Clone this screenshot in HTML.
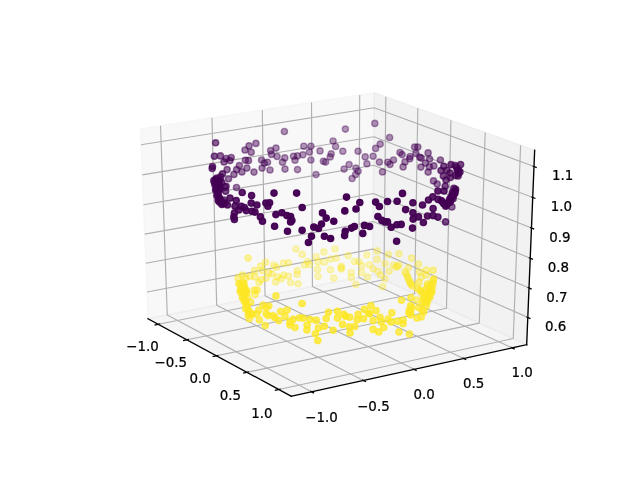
<!DOCTYPE html>
<html><head><meta charset="utf-8"><title>3D scatter</title>
<style>html,body{margin:0;padding:0;background:#fff}svg{display:block}
text{font-family:"DejaVu Sans","Liberation Sans",sans-serif;font-size:13.89px;fill:#000;stroke:#000;stroke-width:0.25px;text-anchor:middle}
.pts circle{stroke-width:1.39}</style></head>
<body><svg width="640" height="480" viewBox="0 0 640 480">
<rect width="640" height="480" fill="#fff"/>
<g class="frame">
<polygon points="148.01,318.73 140.47,128.87 374.25,92.63 372.79,274.70" fill="#f2f2f2" fill-opacity="0.5" stroke="#f2f2f2" stroke-opacity="0.5" stroke-width="1.39" stroke-linejoin="round"/>
<polygon points="372.79,274.70 374.25,92.63 534.66,150.30 526.68,344.68" fill="#e6e6e6" fill-opacity="0.5" stroke="#e6e6e6" stroke-opacity="0.5" stroke-width="1.39" stroke-linejoin="round"/>
<polygon points="148.01,318.73 372.79,274.70 526.68,344.68 291.31,396.26" fill="#ececec" fill-opacity="0.5" stroke="#ececec" stroke-opacity="0.5" stroke-width="1.39" stroke-linejoin="round"/>
<line x1="148.01" y1="318.73" x2="291.31" y2="396.26" stroke="#000" stroke-width="1.35" stroke-linecap="square"/>
<polyline points="158.33,324.31 383.91,279.76 385.81,96.79" fill="none" stroke="#b0b0b0" stroke-width="1.15" stroke-linejoin="round"/>
<polyline points="186.92,339.78 414.69,293.76 417.83,108.30" fill="none" stroke="#b0b0b0" stroke-width="1.15" stroke-linejoin="round"/>
<polyline points="216.48,355.78 446.47,308.21 450.94,120.20" fill="none" stroke="#b0b0b0" stroke-width="1.15" stroke-linejoin="round"/>
<polyline points="247.07,372.33 479.30,323.14 485.18,132.51" fill="none" stroke="#b0b0b0" stroke-width="1.15" stroke-linejoin="round"/>
<polyline points="278.75,389.46 513.23,338.56 520.61,145.25" fill="none" stroke="#b0b0b0" stroke-width="1.15" stroke-linejoin="round"/>
<line x1="160.23" y1="323.94" x2="154.53" y2="325.06" stroke="#000" stroke-width="1.3"/>
<line x1="188.83" y1="339.39" x2="183.08" y2="340.56" stroke="#000" stroke-width="1.3"/>
<line x1="218.42" y1="355.38" x2="212.61" y2="356.58" stroke="#000" stroke-width="1.3"/>
<line x1="249.03" y1="371.91" x2="243.16" y2="373.16" stroke="#000" stroke-width="1.3"/>
<line x1="280.72" y1="389.03" x2="274.79" y2="390.32" stroke="#000" stroke-width="1.3"/>
<line x1="526.68" y1="344.68" x2="291.31" y2="396.26" stroke="#000" stroke-width="1.35" stroke-linecap="square"/>
<polyline points="160.52,125.77 167.26,314.96 311.53,391.83" fill="none" stroke="#b0b0b0" stroke-width="1.15" stroke-linejoin="round"/>
<polyline points="211.97,117.79 216.67,305.28 363.40,380.46" fill="none" stroke="#b0b0b0" stroke-width="1.15" stroke-linejoin="round"/>
<polyline points="262.29,109.99 265.04,295.81 414.08,369.35" fill="none" stroke="#b0b0b0" stroke-width="1.15" stroke-linejoin="round"/>
<polyline points="311.53,102.35 312.40,286.53 463.63,358.49" fill="none" stroke="#b0b0b0" stroke-width="1.15" stroke-linejoin="round"/>
<polyline points="359.72,94.88 358.79,277.45 512.08,347.88" fill="none" stroke="#b0b0b0" stroke-width="1.15" stroke-linejoin="round"/>
<line x1="310.28" y1="391.16" x2="314.04" y2="393.16" stroke="#000" stroke-width="1.3"/>
<line x1="362.13" y1="379.81" x2="365.94" y2="381.77" stroke="#000" stroke-width="1.3"/>
<line x1="412.79" y1="368.72" x2="416.67" y2="370.63" stroke="#000" stroke-width="1.3"/>
<line x1="462.32" y1="357.87" x2="466.25" y2="359.74" stroke="#000" stroke-width="1.3"/>
<line x1="510.75" y1="347.27" x2="514.73" y2="349.10" stroke="#000" stroke-width="1.3"/>
<line x1="526.68" y1="344.68" x2="534.66" y2="150.30" stroke="#000" stroke-width="1.35" stroke-linecap="square"/>
<polyline points="527.80,317.38 372.99,249.07 146.95,292.04" fill="none" stroke="#b0b0b0" stroke-width="1.15" stroke-linejoin="round"/>
<polyline points="529.01,287.96 373.22,221.47 145.81,263.29" fill="none" stroke="#b0b0b0" stroke-width="1.15" stroke-linejoin="round"/>
<polyline points="530.23,258.18 373.44,193.54 144.66,234.19" fill="none" stroke="#b0b0b0" stroke-width="1.15" stroke-linejoin="round"/>
<polyline points="531.47,228.01 373.67,165.29 143.49,204.73" fill="none" stroke="#b0b0b0" stroke-width="1.15" stroke-linejoin="round"/>
<polyline points="532.72,197.46 373.90,136.70 142.30,174.90" fill="none" stroke="#b0b0b0" stroke-width="1.15" stroke-linejoin="round"/>
<polyline points="534.00,166.52 374.13,107.78 141.10,144.70" fill="none" stroke="#b0b0b0" stroke-width="1.15" stroke-linejoin="round"/>
<line x1="526.46" y1="316.79" x2="530.48" y2="318.56" stroke="#000" stroke-width="1.3"/>
<line x1="527.66" y1="287.39" x2="531.71" y2="289.12" stroke="#000" stroke-width="1.3"/>
<line x1="528.87" y1="257.62" x2="532.95" y2="259.30" stroke="#000" stroke-width="1.3"/>
<line x1="530.10" y1="227.47" x2="534.21" y2="229.10" stroke="#000" stroke-width="1.3"/>
<line x1="531.35" y1="196.94" x2="535.48" y2="198.51" stroke="#000" stroke-width="1.3"/>
<line x1="532.61" y1="166.01" x2="536.77" y2="167.54" stroke="#000" stroke-width="1.3"/>
<text transform="translate(142.51 351.44) scale(0.965 1)">−1.0</text>
<text transform="translate(170.85 367.19) scale(0.965 1)">−0.5</text>
<text transform="translate(200.15 383.48) scale(0.965 1)">0.0</text>
<text transform="translate(230.48 400.34) scale(0.965 1)">0.5</text>
<text transform="translate(261.88 417.80) scale(0.965 1)">1.0</text>
<text transform="translate(321.52 422.34) scale(0.965 1)">−1.0</text>
<text transform="translate(373.41 410.71) scale(0.965 1)">−0.5</text>
<text transform="translate(424.12 399.35) scale(0.965 1)">0.0</text>
<text transform="translate(473.68 388.24) scale(0.965 1)">0.5</text>
<text transform="translate(522.14 377.38) scale(0.965 1)">1.0</text>
<text transform="translate(555.61 331.43) scale(0.965 1)">0.6</text>
<text transform="translate(556.99 301.97) scale(0.965 1)">0.7</text>
<text transform="translate(558.40 272.13) scale(0.965 1)">0.8</text>
<text transform="translate(559.82 241.91) scale(0.965 1)">0.9</text>
<text transform="translate(561.26 211.31) scale(0.965 1)">1.0</text>
<text transform="translate(562.71 180.31) scale(0.965 1)">1.1</text>
</g>
<g class="pts">
<circle cx="335.0" cy="249.0" r="3.1" fill="#fde725" stroke="#fde725" fill-opacity="0.30" stroke-opacity="0.30"/>
<circle cx="330.6" cy="259.0" r="3.1" fill="#fde725" stroke="#fde725" fill-opacity="0.30" stroke-opacity="0.30"/>
<circle cx="336.2" cy="258.1" r="3.1" fill="#fde725" stroke="#fde725" fill-opacity="0.30" stroke-opacity="0.30"/>
<circle cx="341.2" cy="266.2" r="3.1" fill="#fde725" stroke="#fde725" fill-opacity="0.30" stroke-opacity="0.30"/>
<circle cx="341.2" cy="269.0" r="3.1" fill="#fde725" stroke="#fde725" fill-opacity="0.30" stroke-opacity="0.30"/>
<circle cx="341.5" cy="267.8" r="3.1" fill="#fde725" stroke="#fde725" fill-opacity="0.30" stroke-opacity="0.30"/>
<circle cx="333.8" cy="278.1" r="3.1" fill="#fde725" stroke="#fde725" fill-opacity="0.30" stroke-opacity="0.30"/>
<circle cx="348.1" cy="255.6" r="3.1" fill="#fde725" stroke="#fde725" fill-opacity="0.30" stroke-opacity="0.30"/>
<circle cx="330.4" cy="269.8" r="3.1" fill="#fde725" stroke="#fde725" fill-opacity="0.30" stroke-opacity="0.30"/>
<circle cx="323.8" cy="251.9" r="3.1" fill="#fde725" stroke="#fde725" fill-opacity="0.30" stroke-opacity="0.30"/>
<circle cx="324.4" cy="262.2" r="3.1" fill="#fde725" stroke="#fde725" fill-opacity="0.30" stroke-opacity="0.30"/>
<circle cx="351.2" cy="272.5" r="3.1" fill="#fde725" stroke="#fde725" fill-opacity="0.30" stroke-opacity="0.30"/>
<circle cx="351.2" cy="277.5" r="3.1" fill="#fde725" stroke="#fde725" fill-opacity="0.30" stroke-opacity="0.30"/>
<circle cx="318.1" cy="261.9" r="3.1" fill="#fde725" stroke="#fde725" fill-opacity="0.30" stroke-opacity="0.30"/>
<circle cx="354.4" cy="261.5" r="3.1" fill="#fde725" stroke="#fde725" fill-opacity="0.30" stroke-opacity="0.30"/>
<circle cx="318.1" cy="276.5" r="3.1" fill="#fde725" stroke="#fde725" fill-opacity="0.30" stroke-opacity="0.30"/>
<circle cx="355.9" cy="284.4" r="3.1" fill="#fde725" stroke="#fde725" fill-opacity="0.30" stroke-opacity="0.30"/>
<circle cx="316.2" cy="256.9" r="3.1" fill="#fde725" stroke="#fde725" fill-opacity="0.30" stroke-opacity="0.30"/>
<circle cx="317.5" cy="269.4" r="3.1" fill="#fde725" stroke="#fde725" fill-opacity="0.30" stroke-opacity="0.30"/>
<circle cx="358.8" cy="261.5" r="3.1" fill="#fde725" stroke="#fde725" fill-opacity="0.31" stroke-opacity="0.31"/>
<circle cx="361.6" cy="272.5" r="3.1" fill="#fde725" stroke="#fde725" fill-opacity="0.31" stroke-opacity="0.31"/>
<circle cx="361.9" cy="265.6" r="3.1" fill="#fde725" stroke="#fde725" fill-opacity="0.31" stroke-opacity="0.31"/>
<circle cx="309.4" cy="264.4" r="3.1" fill="#fde725" stroke="#fde725" fill-opacity="0.31" stroke-opacity="0.31"/>
<circle cx="366.9" cy="255.0" r="3.1" fill="#fde725" stroke="#fde725" fill-opacity="0.31" stroke-opacity="0.31"/>
<circle cx="307.5" cy="261.5" r="3.1" fill="#fde725" stroke="#fde725" fill-opacity="0.31" stroke-opacity="0.31"/>
<circle cx="367.5" cy="276.9" r="3.1" fill="#fde725" stroke="#fde725" fill-opacity="0.31" stroke-opacity="0.31"/>
<circle cx="304.4" cy="265.0" r="3.1" fill="#fde725" stroke="#fde725" fill-opacity="0.31" stroke-opacity="0.31"/>
<circle cx="369.4" cy="264.8" r="3.1" fill="#fde725" stroke="#fde725" fill-opacity="0.31" stroke-opacity="0.31"/>
<circle cx="302.2" cy="254.4" r="3.1" fill="#fde725" stroke="#fde725" fill-opacity="0.32" stroke-opacity="0.32"/>
<circle cx="373.1" cy="268.8" r="3.1" fill="#fde725" stroke="#fde725" fill-opacity="0.32" stroke-opacity="0.32"/>
<circle cx="298.1" cy="283.8" r="3.1" fill="#fde725" stroke="#fde725" fill-opacity="0.32" stroke-opacity="0.32"/>
<circle cx="297.2" cy="270.6" r="3.1" fill="#fde725" stroke="#fde725" fill-opacity="0.32" stroke-opacity="0.32"/>
<circle cx="297.2" cy="274.4" r="3.1" fill="#fde725" stroke="#fde725" fill-opacity="0.32" stroke-opacity="0.32"/>
<circle cx="377.1" cy="250.9" r="3.1" fill="#fde725" stroke="#fde725" fill-opacity="0.32" stroke-opacity="0.32"/>
<circle cx="377.1" cy="259.4" r="3.1" fill="#fde725" stroke="#fde725" fill-opacity="0.32" stroke-opacity="0.32"/>
<circle cx="295.9" cy="249.0" r="3.1" fill="#fde725" stroke="#fde725" fill-opacity="0.32" stroke-opacity="0.32"/>
<circle cx="378.1" cy="271.2" r="3.1" fill="#fde725" stroke="#fde725" fill-opacity="0.32" stroke-opacity="0.32"/>
<circle cx="380.6" cy="275.0" r="3.1" fill="#fde725" stroke="#fde725" fill-opacity="0.32" stroke-opacity="0.32"/>
<circle cx="382.5" cy="286.6" r="3.1" fill="#fde725" stroke="#fde725" fill-opacity="0.33" stroke-opacity="0.33"/>
<circle cx="290.6" cy="282.5" r="3.1" fill="#fde725" stroke="#fde725" fill-opacity="0.33" stroke-opacity="0.33"/>
<circle cx="385.0" cy="263.5" r="3.1" fill="#fde725" stroke="#fde725" fill-opacity="0.33" stroke-opacity="0.33"/>
<circle cx="385.0" cy="278.8" r="3.1" fill="#fde725" stroke="#fde725" fill-opacity="0.33" stroke-opacity="0.33"/>
<circle cx="288.4" cy="262.8" r="3.1" fill="#fde725" stroke="#fde725" fill-opacity="0.33" stroke-opacity="0.33"/>
<circle cx="288.4" cy="276.2" r="3.1" fill="#fde725" stroke="#fde725" fill-opacity="0.33" stroke-opacity="0.33"/>
<circle cx="388.4" cy="254.4" r="3.1" fill="#fde725" stroke="#fde725" fill-opacity="0.33" stroke-opacity="0.33"/>
<circle cx="389.1" cy="271.2" r="3.1" fill="#fde725" stroke="#fde725" fill-opacity="0.34" stroke-opacity="0.34"/>
<circle cx="283.4" cy="263.1" r="3.1" fill="#fde725" stroke="#fde725" fill-opacity="0.34" stroke-opacity="0.34"/>
<circle cx="283.8" cy="275.0" r="3.1" fill="#fde725" stroke="#fde725" fill-opacity="0.34" stroke-opacity="0.34"/>
<circle cx="281.2" cy="278.8" r="3.1" fill="#fde725" stroke="#fde725" fill-opacity="0.34" stroke-opacity="0.34"/>
<circle cx="393.5" cy="265.0" r="3.1" fill="#fde725" stroke="#fde725" fill-opacity="0.34" stroke-opacity="0.34"/>
<circle cx="277.5" cy="276.9" r="3.1" fill="#fde725" stroke="#fde725" fill-opacity="0.35" stroke-opacity="0.35"/>
<circle cx="396.2" cy="267.2" r="3.1" fill="#fde725" stroke="#fde725" fill-opacity="0.35" stroke-opacity="0.35"/>
<circle cx="276.5" cy="267.2" r="3.1" fill="#fde725" stroke="#fde725" fill-opacity="0.35" stroke-opacity="0.35"/>
<circle cx="397.5" cy="266.2" r="3.1" fill="#fde725" stroke="#fde725" fill-opacity="0.35" stroke-opacity="0.35"/>
<circle cx="275.6" cy="281.9" r="3.1" fill="#fde725" stroke="#fde725" fill-opacity="0.35" stroke-opacity="0.35"/>
<circle cx="398.8" cy="265.0" r="3.1" fill="#fde725" stroke="#fde725" fill-opacity="0.35" stroke-opacity="0.35"/>
<circle cx="399.0" cy="253.8" r="3.1" fill="#fde725" stroke="#fde725" fill-opacity="0.35" stroke-opacity="0.35"/>
<circle cx="273.8" cy="265.0" r="3.1" fill="#fde725" stroke="#fde725" fill-opacity="0.35" stroke-opacity="0.35"/>
<circle cx="271.9" cy="273.8" r="3.1" fill="#fde725" stroke="#fde725" fill-opacity="0.36" stroke-opacity="0.36"/>
<circle cx="405.0" cy="271.9" r="3.1" fill="#fde725" stroke="#fde725" fill-opacity="0.36" stroke-opacity="0.36"/>
<circle cx="268.8" cy="272.5" r="3.1" fill="#fde725" stroke="#fde725" fill-opacity="0.36" stroke-opacity="0.36"/>
<circle cx="406.2" cy="273.8" r="3.1" fill="#fde725" stroke="#fde725" fill-opacity="0.37" stroke-opacity="0.37"/>
<circle cx="266.2" cy="278.1" r="3.1" fill="#fde725" stroke="#fde725" fill-opacity="0.37" stroke-opacity="0.37"/>
<circle cx="407.5" cy="276.2" r="3.1" fill="#fde725" stroke="#fde725" fill-opacity="0.37" stroke-opacity="0.37"/>
<circle cx="408.1" cy="278.1" r="3.1" fill="#fde725" stroke="#fde725" fill-opacity="0.37" stroke-opacity="0.37"/>
<circle cx="265.6" cy="262.2" r="3.1" fill="#fde725" stroke="#fde725" fill-opacity="0.37" stroke-opacity="0.37"/>
<circle cx="408.4" cy="267.8" r="3.1" fill="#fde725" stroke="#fde725" fill-opacity="0.37" stroke-opacity="0.37"/>
<circle cx="408.8" cy="280.0" r="3.1" fill="#fde725" stroke="#fde725" fill-opacity="0.37" stroke-opacity="0.37"/>
<circle cx="262.5" cy="270.4" r="3.1" fill="#fde725" stroke="#fde725" fill-opacity="0.38" stroke-opacity="0.38"/>
<circle cx="411.5" cy="258.1" r="3.1" fill="#fde725" stroke="#fde725" fill-opacity="0.38" stroke-opacity="0.38"/>
<circle cx="261.2" cy="279.8" r="3.1" fill="#fde725" stroke="#fde725" fill-opacity="0.38" stroke-opacity="0.38"/>
<circle cx="412.5" cy="286.2" r="3.1" fill="#fde725" stroke="#fde725" fill-opacity="0.38" stroke-opacity="0.38"/>
<circle cx="260.6" cy="266.0" r="3.1" fill="#fde725" stroke="#fde725" fill-opacity="0.39" stroke-opacity="0.39"/>
<circle cx="259.0" cy="282.5" r="3.1" fill="#fde725" stroke="#fde725" fill-opacity="0.39" stroke-opacity="0.39"/>
<circle cx="333.1" cy="141.0" r="3.1" fill="#440154" stroke="#440154" fill-opacity="0.40" stroke-opacity="0.40"/>
<circle cx="335.6" cy="146.5" r="3.1" fill="#440154" stroke="#440154" fill-opacity="0.40" stroke-opacity="0.40"/>
<circle cx="342.8" cy="151.2" r="3.1" fill="#440154" stroke="#440154" fill-opacity="0.40" stroke-opacity="0.40"/>
<circle cx="331.2" cy="153.8" r="3.1" fill="#440154" stroke="#440154" fill-opacity="0.40" stroke-opacity="0.40"/>
<circle cx="344.1" cy="169.1" r="3.1" fill="#440154" stroke="#440154" fill-opacity="0.40" stroke-opacity="0.40"/>
<circle cx="345.4" cy="129.1" r="3.1" fill="#440154" stroke="#440154" fill-opacity="0.40" stroke-opacity="0.40"/>
<circle cx="330.2" cy="156.9" r="3.1" fill="#440154" stroke="#440154" fill-opacity="0.40" stroke-opacity="0.40"/>
<circle cx="325.6" cy="162.1" r="3.1" fill="#440154" stroke="#440154" fill-opacity="0.40" stroke-opacity="0.40"/>
<circle cx="349.1" cy="164.6" r="3.1" fill="#440154" stroke="#440154" fill-opacity="0.40" stroke-opacity="0.40"/>
<circle cx="418.4" cy="264.0" r="3.1" fill="#fde725" stroke="#fde725" fill-opacity="0.40" stroke-opacity="0.40"/>
<circle cx="323.4" cy="161.2" r="3.1" fill="#440154" stroke="#440154" fill-opacity="0.40" stroke-opacity="0.40"/>
<circle cx="352.1" cy="178.5" r="3.1" fill="#440154" stroke="#440154" fill-opacity="0.40" stroke-opacity="0.40"/>
<circle cx="320.0" cy="150.9" r="3.1" fill="#440154" stroke="#440154" fill-opacity="0.40" stroke-opacity="0.40"/>
<circle cx="355.9" cy="168.1" r="3.1" fill="#440154" stroke="#440154" fill-opacity="0.40" stroke-opacity="0.40"/>
<circle cx="355.6" cy="174.6" r="3.1" fill="#440154" stroke="#440154" fill-opacity="0.40" stroke-opacity="0.40"/>
<circle cx="255.0" cy="276.9" r="3.1" fill="#fde725" stroke="#fde725" fill-opacity="0.40" stroke-opacity="0.40"/>
<circle cx="358.1" cy="151.2" r="3.1" fill="#440154" stroke="#440154" fill-opacity="0.40" stroke-opacity="0.40"/>
<circle cx="358.1" cy="171.2" r="3.1" fill="#440154" stroke="#440154" fill-opacity="0.40" stroke-opacity="0.40"/>
<circle cx="316.0" cy="174.6" r="3.1" fill="#440154" stroke="#440154" fill-opacity="0.40" stroke-opacity="0.40"/>
<circle cx="254.6" cy="270.6" r="3.1" fill="#fde725" stroke="#fde725" fill-opacity="0.40" stroke-opacity="0.40"/>
<circle cx="419.4" cy="271.9" r="3.1" fill="#fde725" stroke="#fde725" fill-opacity="0.40" stroke-opacity="0.40"/>
<circle cx="310.9" cy="146.2" r="3.1" fill="#440154" stroke="#440154" fill-opacity="0.41" stroke-opacity="0.41"/>
<circle cx="310.9" cy="160.0" r="3.1" fill="#440154" stroke="#440154" fill-opacity="0.41" stroke-opacity="0.41"/>
<circle cx="365.2" cy="156.9" r="3.1" fill="#440154" stroke="#440154" fill-opacity="0.41" stroke-opacity="0.41"/>
<circle cx="309.4" cy="152.1" r="3.1" fill="#440154" stroke="#440154" fill-opacity="0.41" stroke-opacity="0.41"/>
<circle cx="366.9" cy="163.8" r="3.1" fill="#440154" stroke="#440154" fill-opacity="0.41" stroke-opacity="0.41"/>
<circle cx="303.8" cy="146.2" r="3.1" fill="#440154" stroke="#440154" fill-opacity="0.41" stroke-opacity="0.41"/>
<circle cx="421.2" cy="276.9" r="3.1" fill="#fde725" stroke="#fde725" fill-opacity="0.41" stroke-opacity="0.41"/>
<circle cx="302.9" cy="154.8" r="3.1" fill="#440154" stroke="#440154" fill-opacity="0.41" stroke-opacity="0.41"/>
<circle cx="373.1" cy="156.2" r="3.1" fill="#440154" stroke="#440154" fill-opacity="0.41" stroke-opacity="0.41"/>
<circle cx="374.8" cy="123.4" r="3.1" fill="#440154" stroke="#440154" fill-opacity="0.41" stroke-opacity="0.41"/>
<circle cx="375.6" cy="148.4" r="3.1" fill="#440154" stroke="#440154" fill-opacity="0.41" stroke-opacity="0.41"/>
<circle cx="297.5" cy="155.9" r="3.1" fill="#440154" stroke="#440154" fill-opacity="0.42" stroke-opacity="0.42"/>
<circle cx="297.5" cy="169.6" r="3.1" fill="#440154" stroke="#440154" fill-opacity="0.42" stroke-opacity="0.42"/>
<circle cx="379.4" cy="162.1" r="3.1" fill="#440154" stroke="#440154" fill-opacity="0.42" stroke-opacity="0.42"/>
<circle cx="295.0" cy="160.2" r="3.1" fill="#440154" stroke="#440154" fill-opacity="0.42" stroke-opacity="0.42"/>
<circle cx="380.2" cy="144.1" r="3.1" fill="#440154" stroke="#440154" fill-opacity="0.42" stroke-opacity="0.42"/>
<circle cx="293.5" cy="156.2" r="3.1" fill="#440154" stroke="#440154" fill-opacity="0.42" stroke-opacity="0.42"/>
<circle cx="382.5" cy="171.9" r="3.1" fill="#440154" stroke="#440154" fill-opacity="0.42" stroke-opacity="0.42"/>
<circle cx="250.0" cy="276.2" r="3.1" fill="#fde725" stroke="#fde725" fill-opacity="0.42" stroke-opacity="0.42"/>
<circle cx="387.8" cy="162.2" r="3.1" fill="#440154" stroke="#440154" fill-opacity="0.42" stroke-opacity="0.42"/>
<circle cx="389.6" cy="137.5" r="3.1" fill="#440154" stroke="#440154" fill-opacity="0.43" stroke-opacity="0.43"/>
<circle cx="284.4" cy="131.5" r="3.1" fill="#440154" stroke="#440154" fill-opacity="0.43" stroke-opacity="0.43"/>
<circle cx="284.8" cy="157.9" r="3.1" fill="#440154" stroke="#440154" fill-opacity="0.43" stroke-opacity="0.43"/>
<circle cx="285.0" cy="169.1" r="3.1" fill="#440154" stroke="#440154" fill-opacity="0.43" stroke-opacity="0.43"/>
<circle cx="390.0" cy="164.4" r="3.1" fill="#440154" stroke="#440154" fill-opacity="0.43" stroke-opacity="0.43"/>
<circle cx="248.1" cy="258.1" r="3.1" fill="#fde725" stroke="#fde725" fill-opacity="0.43" stroke-opacity="0.43"/>
<circle cx="282.5" cy="162.2" r="3.1" fill="#440154" stroke="#440154" fill-opacity="0.43" stroke-opacity="0.43"/>
<circle cx="393.5" cy="160.0" r="3.1" fill="#440154" stroke="#440154" fill-opacity="0.43" stroke-opacity="0.43"/>
<circle cx="426.2" cy="270.0" r="3.1" fill="#fde725" stroke="#fde725" fill-opacity="0.43" stroke-opacity="0.43"/>
<circle cx="426.2" cy="275.0" r="3.1" fill="#fde725" stroke="#fde725" fill-opacity="0.43" stroke-opacity="0.43"/>
<circle cx="277.1" cy="156.5" r="3.1" fill="#440154" stroke="#440154" fill-opacity="0.44" stroke-opacity="0.44"/>
<circle cx="276.0" cy="148.1" r="3.1" fill="#440154" stroke="#440154" fill-opacity="0.44" stroke-opacity="0.44"/>
<circle cx="400.0" cy="152.5" r="3.1" fill="#440154" stroke="#440154" fill-opacity="0.44" stroke-opacity="0.44"/>
<circle cx="245.6" cy="278.1" r="3.1" fill="#fde725" stroke="#fde725" fill-opacity="0.44" stroke-opacity="0.44"/>
<circle cx="402.1" cy="154.6" r="3.1" fill="#440154" stroke="#440154" fill-opacity="0.44" stroke-opacity="0.44"/>
<circle cx="271.5" cy="154.4" r="3.1" fill="#440154" stroke="#440154" fill-opacity="0.45" stroke-opacity="0.45"/>
<circle cx="403.1" cy="166.9" r="3.1" fill="#440154" stroke="#440154" fill-opacity="0.45" stroke-opacity="0.45"/>
<circle cx="270.6" cy="150.6" r="3.1" fill="#440154" stroke="#440154" fill-opacity="0.45" stroke-opacity="0.45"/>
<circle cx="270.0" cy="170.0" r="3.1" fill="#440154" stroke="#440154" fill-opacity="0.45" stroke-opacity="0.45"/>
<circle cx="405.0" cy="161.9" r="3.1" fill="#440154" stroke="#440154" fill-opacity="0.45" stroke-opacity="0.45"/>
<circle cx="267.5" cy="162.2" r="3.1" fill="#440154" stroke="#440154" fill-opacity="0.45" stroke-opacity="0.45"/>
<circle cx="409.8" cy="158.8" r="3.1" fill="#440154" stroke="#440154" fill-opacity="0.46" stroke-opacity="0.46"/>
<circle cx="410.0" cy="156.5" r="3.1" fill="#440154" stroke="#440154" fill-opacity="0.46" stroke-opacity="0.46"/>
<circle cx="264.4" cy="163.1" r="3.1" fill="#440154" stroke="#440154" fill-opacity="0.46" stroke-opacity="0.46"/>
<circle cx="262.1" cy="168.1" r="3.1" fill="#440154" stroke="#440154" fill-opacity="0.46" stroke-opacity="0.46"/>
<circle cx="261.6" cy="160.0" r="3.1" fill="#440154" stroke="#440154" fill-opacity="0.46" stroke-opacity="0.46"/>
<circle cx="242.5" cy="275.0" r="3.1" fill="#fde725" stroke="#fde725" fill-opacity="0.46" stroke-opacity="0.46"/>
<circle cx="414.6" cy="147.1" r="3.1" fill="#440154" stroke="#440154" fill-opacity="0.46" stroke-opacity="0.46"/>
<circle cx="415.9" cy="153.4" r="3.1" fill="#440154" stroke="#440154" fill-opacity="0.47" stroke-opacity="0.47"/>
<circle cx="417.8" cy="147.1" r="3.1" fill="#440154" stroke="#440154" fill-opacity="0.47" stroke-opacity="0.47"/>
<circle cx="255.9" cy="143.4" r="3.1" fill="#440154" stroke="#440154" fill-opacity="0.47" stroke-opacity="0.47"/>
<circle cx="419.8" cy="157.2" r="3.1" fill="#440154" stroke="#440154" fill-opacity="0.47" stroke-opacity="0.47"/>
<circle cx="433.1" cy="270.2" r="3.1" fill="#fde725" stroke="#fde725" fill-opacity="0.47" stroke-opacity="0.47"/>
<circle cx="420.9" cy="167.1" r="3.1" fill="#440154" stroke="#440154" fill-opacity="0.48" stroke-opacity="0.48"/>
<circle cx="254.0" cy="172.1" r="3.1" fill="#440154" stroke="#440154" fill-opacity="0.48" stroke-opacity="0.48"/>
<circle cx="421.2" cy="158.1" r="3.1" fill="#440154" stroke="#440154" fill-opacity="0.48" stroke-opacity="0.48"/>
<circle cx="251.2" cy="152.2" r="3.1" fill="#440154" stroke="#440154" fill-opacity="0.48" stroke-opacity="0.48"/>
<circle cx="425.4" cy="163.1" r="3.1" fill="#440154" stroke="#440154" fill-opacity="0.49" stroke-opacity="0.49"/>
<circle cx="249.0" cy="145.9" r="3.1" fill="#440154" stroke="#440154" fill-opacity="0.49" stroke-opacity="0.49"/>
<circle cx="248.5" cy="160.6" r="3.1" fill="#440154" stroke="#440154" fill-opacity="0.49" stroke-opacity="0.49"/>
<circle cx="246.9" cy="168.1" r="3.1" fill="#440154" stroke="#440154" fill-opacity="0.49" stroke-opacity="0.49"/>
<circle cx="428.1" cy="152.9" r="3.1" fill="#440154" stroke="#440154" fill-opacity="0.49" stroke-opacity="0.49"/>
<circle cx="428.1" cy="172.1" r="3.1" fill="#440154" stroke="#440154" fill-opacity="0.49" stroke-opacity="0.49"/>
<circle cx="245.4" cy="160.2" r="3.1" fill="#440154" stroke="#440154" fill-opacity="0.50" stroke-opacity="0.50"/>
<circle cx="429.6" cy="159.1" r="3.1" fill="#440154" stroke="#440154" fill-opacity="0.50" stroke-opacity="0.50"/>
<circle cx="429.4" cy="166.9" r="3.1" fill="#440154" stroke="#440154" fill-opacity="0.50" stroke-opacity="0.50"/>
<circle cx="245.0" cy="150.0" r="3.1" fill="#440154" stroke="#440154" fill-opacity="0.50" stroke-opacity="0.50"/>
<circle cx="238.1" cy="278.1" r="3.1" fill="#fde725" stroke="#fde725" fill-opacity="0.50" stroke-opacity="0.50"/>
<circle cx="241.9" cy="171.9" r="3.1" fill="#440154" stroke="#440154" fill-opacity="0.51" stroke-opacity="0.51"/>
<circle cx="433.5" cy="180.9" r="3.1" fill="#440154" stroke="#440154" fill-opacity="0.51" stroke-opacity="0.51"/>
<circle cx="433.8" cy="165.9" r="3.1" fill="#440154" stroke="#440154" fill-opacity="0.51" stroke-opacity="0.51"/>
<circle cx="239.4" cy="165.6" r="3.1" fill="#440154" stroke="#440154" fill-opacity="0.51" stroke-opacity="0.51"/>
<circle cx="437.2" cy="184.1" r="3.1" fill="#440154" stroke="#440154" fill-opacity="0.52" stroke-opacity="0.52"/>
<circle cx="236.6" cy="169.6" r="3.1" fill="#440154" stroke="#440154" fill-opacity="0.52" stroke-opacity="0.52"/>
<circle cx="236.5" cy="187.5" r="3.1" fill="#440154" stroke="#440154" fill-opacity="0.52" stroke-opacity="0.52"/>
<circle cx="440.4" cy="160.0" r="3.1" fill="#440154" stroke="#440154" fill-opacity="0.53" stroke-opacity="0.53"/>
<circle cx="234.0" cy="174.4" r="3.1" fill="#440154" stroke="#440154" fill-opacity="0.53" stroke-opacity="0.53"/>
<circle cx="238.8" cy="283.8" r="3.1" fill="#fde725" stroke="#fde725" fill-opacity="0.54" stroke-opacity="0.54"/>
<circle cx="243.8" cy="283.1" r="3.1" fill="#fde725" stroke="#fde725" fill-opacity="0.54" stroke-opacity="0.54"/>
<circle cx="241.2" cy="287.5" r="3.1" fill="#fde725" stroke="#fde725" fill-opacity="0.54" stroke-opacity="0.54"/>
<circle cx="245.0" cy="288.8" r="3.1" fill="#fde725" stroke="#fde725" fill-opacity="0.54" stroke-opacity="0.54"/>
<circle cx="242.5" cy="292.5" r="3.1" fill="#fde725" stroke="#fde725" fill-opacity="0.54" stroke-opacity="0.54"/>
<circle cx="246.9" cy="293.1" r="3.1" fill="#fde725" stroke="#fde725" fill-opacity="0.54" stroke-opacity="0.54"/>
<circle cx="240.0" cy="290.6" r="3.1" fill="#fde725" stroke="#fde725" fill-opacity="0.54" stroke-opacity="0.54"/>
<circle cx="244.4" cy="285.6" r="3.1" fill="#fde725" stroke="#fde725" fill-opacity="0.54" stroke-opacity="0.54"/>
<circle cx="418.8" cy="282.5" r="3.1" fill="#fde725" stroke="#fde725" fill-opacity="0.54" stroke-opacity="0.54"/>
<circle cx="433.8" cy="278.8" r="3.1" fill="#fde725" stroke="#fde725" fill-opacity="0.54" stroke-opacity="0.54"/>
<circle cx="417.5" cy="288.8" r="3.1" fill="#fde725" stroke="#fde725" fill-opacity="0.54" stroke-opacity="0.54"/>
<circle cx="421.2" cy="291.9" r="3.1" fill="#fde725" stroke="#fde725" fill-opacity="0.54" stroke-opacity="0.54"/>
<circle cx="427.5" cy="286.2" r="3.1" fill="#fde725" stroke="#fde725" fill-opacity="0.54" stroke-opacity="0.54"/>
<circle cx="432.5" cy="287.5" r="3.1" fill="#fde725" stroke="#fde725" fill-opacity="0.54" stroke-opacity="0.54"/>
<circle cx="431.2" cy="292.5" r="3.1" fill="#fde725" stroke="#fde725" fill-opacity="0.54" stroke-opacity="0.54"/>
<circle cx="433.1" cy="283.1" r="3.1" fill="#fde725" stroke="#fde725" fill-opacity="0.54" stroke-opacity="0.54"/>
<circle cx="254.4" cy="290.0" r="3.1" fill="#fde725" stroke="#fde725" fill-opacity="0.54" stroke-opacity="0.54"/>
<circle cx="257.2" cy="290.0" r="3.1" fill="#fde725" stroke="#fde725" fill-opacity="0.54" stroke-opacity="0.54"/>
<circle cx="255.0" cy="294.4" r="3.1" fill="#fde725" stroke="#fde725" fill-opacity="0.54" stroke-opacity="0.54"/>
<circle cx="243.8" cy="290.0" r="3.1" fill="#fde725" stroke="#fde725" fill-opacity="0.54" stroke-opacity="0.54"/>
<circle cx="240.6" cy="292.5" r="3.1" fill="#fde725" stroke="#fde725" fill-opacity="0.54" stroke-opacity="0.54"/>
<circle cx="244.4" cy="295.0" r="3.1" fill="#fde725" stroke="#fde725" fill-opacity="0.54" stroke-opacity="0.54"/>
<circle cx="242.5" cy="297.5" r="3.1" fill="#fde725" stroke="#fde725" fill-opacity="0.54" stroke-opacity="0.54"/>
<circle cx="243.8" cy="300.6" r="3.1" fill="#fde725" stroke="#fde725" fill-opacity="0.54" stroke-opacity="0.54"/>
<circle cx="245.6" cy="303.8" r="3.1" fill="#fde725" stroke="#fde725" fill-opacity="0.54" stroke-opacity="0.54"/>
<circle cx="246.9" cy="306.9" r="3.1" fill="#fde725" stroke="#fde725" fill-opacity="0.54" stroke-opacity="0.54"/>
<circle cx="248.1" cy="310.0" r="3.1" fill="#fde725" stroke="#fde725" fill-opacity="0.54" stroke-opacity="0.54"/>
<circle cx="250.0" cy="313.1" r="3.1" fill="#fde725" stroke="#fde725" fill-opacity="0.54" stroke-opacity="0.54"/>
<circle cx="252.5" cy="314.4" r="3.1" fill="#fde725" stroke="#fde725" fill-opacity="0.54" stroke-opacity="0.54"/>
<circle cx="245.0" cy="298.8" r="3.1" fill="#fde725" stroke="#fde725" fill-opacity="0.54" stroke-opacity="0.54"/>
<circle cx="246.9" cy="290.6" r="3.1" fill="#fde725" stroke="#fde725" fill-opacity="0.54" stroke-opacity="0.54"/>
<circle cx="416.9" cy="300.0" r="3.1" fill="#fde725" stroke="#fde725" fill-opacity="0.54" stroke-opacity="0.54"/>
<circle cx="430.0" cy="287.5" r="3.1" fill="#fde725" stroke="#fde725" fill-opacity="0.54" stroke-opacity="0.54"/>
<circle cx="429.4" cy="291.2" r="3.1" fill="#fde725" stroke="#fde725" fill-opacity="0.54" stroke-opacity="0.54"/>
<circle cx="427.5" cy="295.0" r="3.1" fill="#fde725" stroke="#fde725" fill-opacity="0.54" stroke-opacity="0.54"/>
<circle cx="426.9" cy="298.8" r="3.1" fill="#fde725" stroke="#fde725" fill-opacity="0.54" stroke-opacity="0.54"/>
<circle cx="425.0" cy="302.5" r="3.1" fill="#fde725" stroke="#fde725" fill-opacity="0.54" stroke-opacity="0.54"/>
<circle cx="423.1" cy="292.5" r="3.1" fill="#fde725" stroke="#fde725" fill-opacity="0.54" stroke-opacity="0.54"/>
<circle cx="420.0" cy="290.0" r="3.1" fill="#fde725" stroke="#fde725" fill-opacity="0.54" stroke-opacity="0.54"/>
<circle cx="423.8" cy="297.5" r="3.1" fill="#fde725" stroke="#fde725" fill-opacity="0.54" stroke-opacity="0.54"/>
<circle cx="428.8" cy="297.5" r="3.1" fill="#fde725" stroke="#fde725" fill-opacity="0.54" stroke-opacity="0.54"/>
<circle cx="241.2" cy="290.0" r="3.1" fill="#fde725" stroke="#fde725" fill-opacity="0.54" stroke-opacity="0.54"/>
<circle cx="243.8" cy="293.8" r="3.1" fill="#fde725" stroke="#fde725" fill-opacity="0.54" stroke-opacity="0.54"/>
<circle cx="242.5" cy="297.5" r="3.1" fill="#fde725" stroke="#fde725" fill-opacity="0.54" stroke-opacity="0.54"/>
<circle cx="243.8" cy="287.5" r="3.1" fill="#fde725" stroke="#fde725" fill-opacity="0.54" stroke-opacity="0.54"/>
<circle cx="245.6" cy="291.2" r="3.1" fill="#fde725" stroke="#fde725" fill-opacity="0.54" stroke-opacity="0.54"/>
<circle cx="247.5" cy="297.5" r="3.1" fill="#fde725" stroke="#fde725" fill-opacity="0.54" stroke-opacity="0.54"/>
<circle cx="240.0" cy="283.8" r="3.1" fill="#fde725" stroke="#fde725" fill-opacity="0.54" stroke-opacity="0.54"/>
<circle cx="242.5" cy="282.5" r="3.1" fill="#fde725" stroke="#fde725" fill-opacity="0.54" stroke-opacity="0.54"/>
<circle cx="410.0" cy="282.5" r="3.1" fill="#fde725" stroke="#fde725" fill-opacity="0.54" stroke-opacity="0.54"/>
<circle cx="411.2" cy="284.4" r="3.1" fill="#fde725" stroke="#fde725" fill-opacity="0.54" stroke-opacity="0.54"/>
<circle cx="433.1" cy="280.6" r="3.1" fill="#fde725" stroke="#fde725" fill-opacity="0.54" stroke-opacity="0.54"/>
<circle cx="431.2" cy="285.0" r="3.1" fill="#fde725" stroke="#fde725" fill-opacity="0.54" stroke-opacity="0.54"/>
<circle cx="427.5" cy="283.8" r="3.1" fill="#fde725" stroke="#fde725" fill-opacity="0.54" stroke-opacity="0.54"/>
<circle cx="430.0" cy="289.4" r="3.1" fill="#fde725" stroke="#fde725" fill-opacity="0.54" stroke-opacity="0.54"/>
<circle cx="426.2" cy="288.8" r="3.1" fill="#fde725" stroke="#fde725" fill-opacity="0.54" stroke-opacity="0.54"/>
<circle cx="425.0" cy="293.8" r="3.1" fill="#fde725" stroke="#fde725" fill-opacity="0.54" stroke-opacity="0.54"/>
<circle cx="231.2" cy="157.5" r="3.1" fill="#440154" stroke="#440154" fill-opacity="0.54" stroke-opacity="0.54"/>
<circle cx="230.0" cy="160.6" r="3.1" fill="#440154" stroke="#440154" fill-opacity="0.55" stroke-opacity="0.55"/>
<circle cx="228.5" cy="178.8" r="3.1" fill="#440154" stroke="#440154" fill-opacity="0.55" stroke-opacity="0.55"/>
<circle cx="227.1" cy="169.6" r="3.1" fill="#440154" stroke="#440154" fill-opacity="0.56" stroke-opacity="0.56"/>
<circle cx="226.2" cy="158.5" r="3.1" fill="#440154" stroke="#440154" fill-opacity="0.56" stroke-opacity="0.56"/>
<circle cx="226.2" cy="186.2" r="3.1" fill="#440154" stroke="#440154" fill-opacity="0.56" stroke-opacity="0.56"/>
<circle cx="224.0" cy="161.9" r="3.1" fill="#440154" stroke="#440154" fill-opacity="0.57" stroke-opacity="0.57"/>
<circle cx="451.9" cy="206.9" r="3.1" fill="#440154" stroke="#440154" fill-opacity="0.58" stroke-opacity="0.58"/>
<circle cx="220.4" cy="155.9" r="3.1" fill="#440154" stroke="#440154" fill-opacity="0.59" stroke-opacity="0.59"/>
<circle cx="431.9" cy="291.9" r="3.1" fill="#fde725" stroke="#fde725" fill-opacity="0.62" stroke-opacity="0.62"/>
<circle cx="430.0" cy="296.9" r="3.1" fill="#fde725" stroke="#fde725" fill-opacity="0.63" stroke-opacity="0.63"/>
<circle cx="215.6" cy="142.8" r="3.1" fill="#440154" stroke="#440154" fill-opacity="0.63" stroke-opacity="0.63"/>
<circle cx="245.0" cy="301.2" r="3.1" fill="#fde725" stroke="#fde725" fill-opacity="0.63" stroke-opacity="0.63"/>
<circle cx="428.8" cy="294.4" r="3.1" fill="#fde725" stroke="#fde725" fill-opacity="0.64" stroke-opacity="0.64"/>
<circle cx="245.6" cy="308.8" r="3.1" fill="#fde725" stroke="#fde725" fill-opacity="0.64" stroke-opacity="0.64"/>
<circle cx="427.5" cy="298.8" r="3.1" fill="#fde725" stroke="#fde725" fill-opacity="0.64" stroke-opacity="0.64"/>
<circle cx="427.5" cy="301.9" r="3.1" fill="#fde725" stroke="#fde725" fill-opacity="0.64" stroke-opacity="0.64"/>
<circle cx="246.9" cy="305.0" r="3.1" fill="#fde725" stroke="#fde725" fill-opacity="0.64" stroke-opacity="0.64"/>
<circle cx="214.4" cy="156.2" r="3.1" fill="#440154" stroke="#440154" fill-opacity="0.65" stroke-opacity="0.65"/>
<circle cx="426.2" cy="306.2" r="3.1" fill="#fde725" stroke="#fde725" fill-opacity="0.65" stroke-opacity="0.65"/>
<circle cx="248.1" cy="315.0" r="3.1" fill="#fde725" stroke="#fde725" fill-opacity="0.65" stroke-opacity="0.65"/>
<circle cx="425.6" cy="302.5" r="3.1" fill="#fde725" stroke="#fde725" fill-opacity="0.65" stroke-opacity="0.65"/>
<circle cx="248.8" cy="311.2" r="3.1" fill="#fde725" stroke="#fde725" fill-opacity="0.65" stroke-opacity="0.65"/>
<circle cx="249.4" cy="318.8" r="3.1" fill="#fde725" stroke="#fde725" fill-opacity="0.66" stroke-opacity="0.66"/>
<circle cx="423.8" cy="311.9" r="3.1" fill="#fde725" stroke="#fde725" fill-opacity="0.66" stroke-opacity="0.66"/>
<circle cx="423.8" cy="298.1" r="3.1" fill="#fde725" stroke="#fde725" fill-opacity="0.66" stroke-opacity="0.66"/>
<circle cx="250.6" cy="302.2" r="3.1" fill="#fde725" stroke="#fde725" fill-opacity="0.66" stroke-opacity="0.66"/>
<circle cx="251.2" cy="313.8" r="3.1" fill="#fde725" stroke="#fde725" fill-opacity="0.66" stroke-opacity="0.66"/>
<circle cx="422.5" cy="302.5" r="3.1" fill="#fde725" stroke="#fde725" fill-opacity="0.66" stroke-opacity="0.66"/>
<circle cx="421.9" cy="310.0" r="3.1" fill="#fde725" stroke="#fde725" fill-opacity="0.67" stroke-opacity="0.67"/>
<circle cx="421.2" cy="316.9" r="3.1" fill="#fde725" stroke="#fde725" fill-opacity="0.67" stroke-opacity="0.67"/>
<circle cx="418.8" cy="307.5" r="3.1" fill="#fde725" stroke="#fde725" fill-opacity="0.68" stroke-opacity="0.68"/>
<circle cx="256.9" cy="313.8" r="3.1" fill="#fde725" stroke="#fde725" fill-opacity="0.68" stroke-opacity="0.68"/>
<circle cx="416.9" cy="318.1" r="3.1" fill="#fde725" stroke="#fde725" fill-opacity="0.68" stroke-opacity="0.68"/>
<circle cx="258.8" cy="310.0" r="3.1" fill="#fde725" stroke="#fde725" fill-opacity="0.69" stroke-opacity="0.69"/>
<circle cx="259.4" cy="320.0" r="3.1" fill="#fde725" stroke="#fde725" fill-opacity="0.69" stroke-opacity="0.69"/>
<circle cx="411.9" cy="307.5" r="3.1" fill="#fde725" stroke="#fde725" fill-opacity="0.70" stroke-opacity="0.70"/>
<circle cx="212.5" cy="166.5" r="3.1" fill="#440154" stroke="#440154" fill-opacity="0.70" stroke-opacity="0.70"/>
<circle cx="212.2" cy="168.5" r="3.1" fill="#440154" stroke="#440154" fill-opacity="0.70" stroke-opacity="0.70"/>
<circle cx="222.5" cy="173.8" r="3.1" fill="#440154" stroke="#440154" fill-opacity="0.70" stroke-opacity="0.70"/>
<circle cx="216.9" cy="178.1" r="3.1" fill="#440154" stroke="#440154" fill-opacity="0.70" stroke-opacity="0.70"/>
<circle cx="220.6" cy="176.9" r="3.1" fill="#440154" stroke="#440154" fill-opacity="0.70" stroke-opacity="0.70"/>
<circle cx="443.8" cy="166.2" r="3.1" fill="#440154" stroke="#440154" fill-opacity="0.70" stroke-opacity="0.70"/>
<circle cx="441.0" cy="170.6" r="3.1" fill="#440154" stroke="#440154" fill-opacity="0.70" stroke-opacity="0.70"/>
<circle cx="451.0" cy="164.6" r="3.1" fill="#440154" stroke="#440154" fill-opacity="0.70" stroke-opacity="0.70"/>
<circle cx="455.0" cy="165.6" r="3.1" fill="#440154" stroke="#440154" fill-opacity="0.70" stroke-opacity="0.70"/>
<circle cx="460.6" cy="164.6" r="3.1" fill="#440154" stroke="#440154" fill-opacity="0.70" stroke-opacity="0.70"/>
<circle cx="458.4" cy="170.0" r="3.1" fill="#440154" stroke="#440154" fill-opacity="0.70" stroke-opacity="0.70"/>
<circle cx="458.1" cy="173.8" r="3.1" fill="#440154" stroke="#440154" fill-opacity="0.70" stroke-opacity="0.70"/>
<circle cx="450.0" cy="173.1" r="3.1" fill="#440154" stroke="#440154" fill-opacity="0.70" stroke-opacity="0.70"/>
<circle cx="446.9" cy="170.2" r="3.1" fill="#440154" stroke="#440154" fill-opacity="0.70" stroke-opacity="0.70"/>
<circle cx="443.4" cy="176.0" r="3.1" fill="#440154" stroke="#440154" fill-opacity="0.70" stroke-opacity="0.70"/>
<circle cx="450.4" cy="177.5" r="3.1" fill="#440154" stroke="#440154" fill-opacity="0.70" stroke-opacity="0.70"/>
<circle cx="446.0" cy="180.0" r="3.1" fill="#440154" stroke="#440154" fill-opacity="0.70" stroke-opacity="0.70"/>
<circle cx="445.2" cy="186.2" r="3.1" fill="#440154" stroke="#440154" fill-opacity="0.70" stroke-opacity="0.70"/>
<circle cx="453.8" cy="188.4" r="3.1" fill="#440154" stroke="#440154" fill-opacity="0.70" stroke-opacity="0.70"/>
<circle cx="456.9" cy="167.5" r="3.1" fill="#440154" stroke="#440154" fill-opacity="0.70" stroke-opacity="0.70"/>
<circle cx="460.0" cy="171.9" r="3.1" fill="#440154" stroke="#440154" fill-opacity="0.70" stroke-opacity="0.70"/>
<circle cx="455.6" cy="175.6" r="3.1" fill="#440154" stroke="#440154" fill-opacity="0.70" stroke-opacity="0.70"/>
<circle cx="457.2" cy="170.2" r="3.1" fill="#440154" stroke="#440154" fill-opacity="0.70" stroke-opacity="0.70"/>
<circle cx="458.1" cy="176.0" r="3.1" fill="#440154" stroke="#440154" fill-opacity="0.70" stroke-opacity="0.70"/>
<circle cx="445.6" cy="221.9" r="3.1" fill="#440154" stroke="#440154" fill-opacity="0.70" stroke-opacity="0.70"/>
<circle cx="452.5" cy="192.5" r="3.1" fill="#440154" stroke="#440154" fill-opacity="0.70" stroke-opacity="0.70"/>
<circle cx="451.2" cy="196.2" r="3.1" fill="#440154" stroke="#440154" fill-opacity="0.70" stroke-opacity="0.70"/>
<circle cx="449.4" cy="200.0" r="3.1" fill="#440154" stroke="#440154" fill-opacity="0.70" stroke-opacity="0.70"/>
<circle cx="446.9" cy="203.8" r="3.1" fill="#440154" stroke="#440154" fill-opacity="0.70" stroke-opacity="0.70"/>
<circle cx="445.6" cy="206.2" r="3.1" fill="#440154" stroke="#440154" fill-opacity="0.70" stroke-opacity="0.70"/>
<circle cx="442.5" cy="201.9" r="3.1" fill="#440154" stroke="#440154" fill-opacity="0.70" stroke-opacity="0.70"/>
<circle cx="453.1" cy="198.8" r="3.1" fill="#440154" stroke="#440154" fill-opacity="0.70" stroke-opacity="0.70"/>
<circle cx="450.0" cy="202.5" r="3.1" fill="#440154" stroke="#440154" fill-opacity="0.70" stroke-opacity="0.70"/>
<circle cx="215.6" cy="181.2" r="3.1" fill="#440154" stroke="#440154" fill-opacity="0.70" stroke-opacity="0.70"/>
<circle cx="214.4" cy="182.5" r="3.1" fill="#440154" stroke="#440154" fill-opacity="0.70" stroke-opacity="0.70"/>
<circle cx="216.9" cy="185.0" r="3.1" fill="#440154" stroke="#440154" fill-opacity="0.70" stroke-opacity="0.70"/>
<circle cx="218.8" cy="183.8" r="3.1" fill="#440154" stroke="#440154" fill-opacity="0.70" stroke-opacity="0.70"/>
<circle cx="216.2" cy="188.8" r="3.1" fill="#440154" stroke="#440154" fill-opacity="0.70" stroke-opacity="0.70"/>
<circle cx="220.0" cy="188.8" r="3.1" fill="#440154" stroke="#440154" fill-opacity="0.70" stroke-opacity="0.70"/>
<circle cx="225.6" cy="191.2" r="3.1" fill="#440154" stroke="#440154" fill-opacity="0.70" stroke-opacity="0.70"/>
<circle cx="218.1" cy="193.8" r="3.1" fill="#440154" stroke="#440154" fill-opacity="0.70" stroke-opacity="0.70"/>
<circle cx="218.8" cy="196.9" r="3.1" fill="#440154" stroke="#440154" fill-opacity="0.70" stroke-opacity="0.70"/>
<circle cx="218.1" cy="200.0" r="3.1" fill="#440154" stroke="#440154" fill-opacity="0.70" stroke-opacity="0.70"/>
<circle cx="220.0" cy="202.5" r="3.1" fill="#440154" stroke="#440154" fill-opacity="0.70" stroke-opacity="0.70"/>
<circle cx="223.1" cy="203.8" r="3.1" fill="#440154" stroke="#440154" fill-opacity="0.70" stroke-opacity="0.70"/>
<circle cx="223.8" cy="200.0" r="3.1" fill="#440154" stroke="#440154" fill-opacity="0.70" stroke-opacity="0.70"/>
<circle cx="221.9" cy="182.5" r="3.1" fill="#440154" stroke="#440154" fill-opacity="0.70" stroke-opacity="0.70"/>
<circle cx="225.0" cy="186.9" r="3.1" fill="#440154" stroke="#440154" fill-opacity="0.70" stroke-opacity="0.70"/>
<circle cx="263.1" cy="305.0" r="3.1" fill="#fde725" stroke="#fde725" fill-opacity="0.70" stroke-opacity="0.70"/>
<circle cx="410.9" cy="297.5" r="3.1" fill="#fde725" stroke="#fde725" fill-opacity="0.70" stroke-opacity="0.70"/>
<circle cx="410.6" cy="305.6" r="3.1" fill="#fde725" stroke="#fde725" fill-opacity="0.70" stroke-opacity="0.70"/>
<circle cx="410.6" cy="315.0" r="3.1" fill="#fde725" stroke="#fde725" fill-opacity="0.70" stroke-opacity="0.70"/>
<circle cx="410.6" cy="311.9" r="3.1" fill="#fde725" stroke="#fde725" fill-opacity="0.70" stroke-opacity="0.70"/>
<circle cx="409.4" cy="334.0" r="3.1" fill="#fde725" stroke="#fde725" fill-opacity="0.71" stroke-opacity="0.71"/>
<circle cx="409.4" cy="310.0" r="3.1" fill="#fde725" stroke="#fde725" fill-opacity="0.71" stroke-opacity="0.71"/>
<circle cx="265.2" cy="325.6" r="3.1" fill="#fde725" stroke="#fde725" fill-opacity="0.71" stroke-opacity="0.71"/>
<circle cx="408.8" cy="313.1" r="3.1" fill="#fde725" stroke="#fde725" fill-opacity="0.71" stroke-opacity="0.71"/>
<circle cx="266.2" cy="307.5" r="3.1" fill="#fde725" stroke="#fde725" fill-opacity="0.71" stroke-opacity="0.71"/>
<circle cx="266.2" cy="313.8" r="3.1" fill="#fde725" stroke="#fde725" fill-opacity="0.71" stroke-opacity="0.71"/>
<circle cx="268.1" cy="315.6" r="3.1" fill="#fde725" stroke="#fde725" fill-opacity="0.71" stroke-opacity="0.71"/>
<circle cx="268.8" cy="306.0" r="3.1" fill="#fde725" stroke="#fde725" fill-opacity="0.71" stroke-opacity="0.71"/>
<circle cx="403.1" cy="320.0" r="3.1" fill="#fde725" stroke="#fde725" fill-opacity="0.72" stroke-opacity="0.72"/>
<circle cx="403.1" cy="323.8" r="3.1" fill="#fde725" stroke="#fde725" fill-opacity="0.72" stroke-opacity="0.72"/>
<circle cx="401.5" cy="300.2" r="3.1" fill="#fde725" stroke="#fde725" fill-opacity="0.72" stroke-opacity="0.72"/>
<circle cx="273.1" cy="315.6" r="3.1" fill="#fde725" stroke="#fde725" fill-opacity="0.72" stroke-opacity="0.72"/>
<circle cx="275.0" cy="317.8" r="3.1" fill="#fde725" stroke="#fde725" fill-opacity="0.73" stroke-opacity="0.73"/>
<circle cx="399.0" cy="331.9" r="3.1" fill="#fde725" stroke="#fde725" fill-opacity="0.73" stroke-opacity="0.73"/>
<circle cx="275.9" cy="295.9" r="3.1" fill="#fde725" stroke="#fde725" fill-opacity="0.73" stroke-opacity="0.73"/>
<circle cx="397.5" cy="321.2" r="3.1" fill="#fde725" stroke="#fde725" fill-opacity="0.73" stroke-opacity="0.73"/>
<circle cx="278.8" cy="320.6" r="3.1" fill="#fde725" stroke="#fde725" fill-opacity="0.73" stroke-opacity="0.73"/>
<circle cx="280.6" cy="311.5" r="3.1" fill="#fde725" stroke="#fde725" fill-opacity="0.74" stroke-opacity="0.74"/>
<circle cx="391.9" cy="312.8" r="3.1" fill="#fde725" stroke="#fde725" fill-opacity="0.74" stroke-opacity="0.74"/>
<circle cx="213.8" cy="180.6" r="3.1" fill="#440154" stroke="#440154" fill-opacity="0.74" stroke-opacity="0.74"/>
<circle cx="391.2" cy="321.9" r="3.1" fill="#fde725" stroke="#fde725" fill-opacity="0.74" stroke-opacity="0.74"/>
<circle cx="285.0" cy="316.2" r="3.1" fill="#fde725" stroke="#fde725" fill-opacity="0.74" stroke-opacity="0.74"/>
<circle cx="388.1" cy="319.0" r="3.1" fill="#fde725" stroke="#fde725" fill-opacity="0.75" stroke-opacity="0.75"/>
<circle cx="287.1" cy="310.0" r="3.1" fill="#fde725" stroke="#fde725" fill-opacity="0.75" stroke-opacity="0.75"/>
<circle cx="290.0" cy="321.9" r="3.1" fill="#fde725" stroke="#fde725" fill-opacity="0.75" stroke-opacity="0.75"/>
<circle cx="290.0" cy="325.0" r="3.1" fill="#fde725" stroke="#fde725" fill-opacity="0.75" stroke-opacity="0.75"/>
<circle cx="383.8" cy="327.5" r="3.1" fill="#fde725" stroke="#fde725" fill-opacity="0.75" stroke-opacity="0.75"/>
<circle cx="381.2" cy="321.9" r="3.1" fill="#fde725" stroke="#fde725" fill-opacity="0.76" stroke-opacity="0.76"/>
<circle cx="293.1" cy="319.4" r="3.1" fill="#fde725" stroke="#fde725" fill-opacity="0.76" stroke-opacity="0.76"/>
<circle cx="380.0" cy="317.2" r="3.1" fill="#fde725" stroke="#fde725" fill-opacity="0.76" stroke-opacity="0.76"/>
<circle cx="295.0" cy="327.5" r="3.1" fill="#fde725" stroke="#fde725" fill-opacity="0.76" stroke-opacity="0.76"/>
<circle cx="378.8" cy="331.9" r="3.1" fill="#fde725" stroke="#fde725" fill-opacity="0.76" stroke-opacity="0.76"/>
<circle cx="215.0" cy="185.0" r="3.1" fill="#440154" stroke="#440154" fill-opacity="0.76" stroke-opacity="0.76"/>
<circle cx="376.0" cy="310.6" r="3.1" fill="#fde725" stroke="#fde725" fill-opacity="0.76" stroke-opacity="0.76"/>
<circle cx="299.4" cy="317.8" r="3.1" fill="#fde725" stroke="#fde725" fill-opacity="0.76" stroke-opacity="0.76"/>
<circle cx="373.1" cy="320.6" r="3.1" fill="#fde725" stroke="#fde725" fill-opacity="0.76" stroke-opacity="0.76"/>
<circle cx="373.1" cy="329.4" r="3.1" fill="#fde725" stroke="#fde725" fill-opacity="0.76" stroke-opacity="0.76"/>
<circle cx="302.1" cy="303.5" r="3.1" fill="#fde725" stroke="#fde725" fill-opacity="0.77" stroke-opacity="0.77"/>
<circle cx="370.9" cy="305.6" r="3.1" fill="#fde725" stroke="#fde725" fill-opacity="0.77" stroke-opacity="0.77"/>
<circle cx="303.1" cy="318.1" r="3.1" fill="#fde725" stroke="#fde725" fill-opacity="0.77" stroke-opacity="0.77"/>
<circle cx="215.6" cy="190.0" r="3.1" fill="#440154" stroke="#440154" fill-opacity="0.77" stroke-opacity="0.77"/>
<circle cx="215.6" cy="179.4" r="3.1" fill="#440154" stroke="#440154" fill-opacity="0.77" stroke-opacity="0.77"/>
<circle cx="369.4" cy="313.8" r="3.1" fill="#fde725" stroke="#fde725" fill-opacity="0.77" stroke-opacity="0.77"/>
<circle cx="368.8" cy="313.1" r="3.1" fill="#fde725" stroke="#fde725" fill-opacity="0.77" stroke-opacity="0.77"/>
<circle cx="307.1" cy="325.2" r="3.1" fill="#fde725" stroke="#fde725" fill-opacity="0.77" stroke-opacity="0.77"/>
<circle cx="306.9" cy="330.0" r="3.1" fill="#fde725" stroke="#fde725" fill-opacity="0.77" stroke-opacity="0.77"/>
<circle cx="364.4" cy="309.4" r="3.1" fill="#fde725" stroke="#fde725" fill-opacity="0.77" stroke-opacity="0.77"/>
<circle cx="363.5" cy="318.8" r="3.1" fill="#fde725" stroke="#fde725" fill-opacity="0.77" stroke-opacity="0.77"/>
<circle cx="310.0" cy="319.4" r="3.1" fill="#fde725" stroke="#fde725" fill-opacity="0.77" stroke-opacity="0.77"/>
<circle cx="458.8" cy="173.1" r="3.1" fill="#440154" stroke="#440154" fill-opacity="0.77" stroke-opacity="0.77"/>
<circle cx="216.2" cy="182.5" r="3.1" fill="#440154" stroke="#440154" fill-opacity="0.77" stroke-opacity="0.77"/>
<circle cx="315.4" cy="333.8" r="3.1" fill="#fde725" stroke="#fde725" fill-opacity="0.77" stroke-opacity="0.77"/>
<circle cx="358.1" cy="314.4" r="3.1" fill="#fde725" stroke="#fde725" fill-opacity="0.78" stroke-opacity="0.78"/>
<circle cx="357.1" cy="319.8" r="3.1" fill="#fde725" stroke="#fde725" fill-opacity="0.78" stroke-opacity="0.78"/>
<circle cx="316.2" cy="320.4" r="3.1" fill="#fde725" stroke="#fde725" fill-opacity="0.78" stroke-opacity="0.78"/>
<circle cx="318.4" cy="328.1" r="3.1" fill="#fde725" stroke="#fde725" fill-opacity="0.78" stroke-opacity="0.78"/>
<circle cx="354.8" cy="326.5" r="3.1" fill="#fde725" stroke="#fde725" fill-opacity="0.78" stroke-opacity="0.78"/>
<circle cx="317.8" cy="340.6" r="3.1" fill="#fde725" stroke="#fde725" fill-opacity="0.78" stroke-opacity="0.78"/>
<circle cx="349.6" cy="317.2" r="3.1" fill="#fde725" stroke="#fde725" fill-opacity="0.78" stroke-opacity="0.78"/>
<circle cx="324.4" cy="326.2" r="3.1" fill="#fde725" stroke="#fde725" fill-opacity="0.78" stroke-opacity="0.78"/>
<circle cx="349.6" cy="326.9" r="3.1" fill="#fde725" stroke="#fde725" fill-opacity="0.78" stroke-opacity="0.78"/>
<circle cx="350.0" cy="332.9" r="3.1" fill="#fde725" stroke="#fde725" fill-opacity="0.78" stroke-opacity="0.78"/>
<circle cx="216.9" cy="195.6" r="3.1" fill="#440154" stroke="#440154" fill-opacity="0.78" stroke-opacity="0.78"/>
<circle cx="328.5" cy="312.2" r="3.1" fill="#fde725" stroke="#fde725" fill-opacity="0.78" stroke-opacity="0.78"/>
<circle cx="343.8" cy="314.4" r="3.1" fill="#fde725" stroke="#fde725" fill-opacity="0.78" stroke-opacity="0.78"/>
<circle cx="345.6" cy="316.2" r="3.1" fill="#fde725" stroke="#fde725" fill-opacity="0.78" stroke-opacity="0.78"/>
<circle cx="326.2" cy="318.5" r="3.1" fill="#fde725" stroke="#fde725" fill-opacity="0.78" stroke-opacity="0.78"/>
<circle cx="337.5" cy="311.2" r="3.1" fill="#fde725" stroke="#fde725" fill-opacity="0.78" stroke-opacity="0.78"/>
<circle cx="337.5" cy="318.1" r="3.1" fill="#fde725" stroke="#fde725" fill-opacity="0.78" stroke-opacity="0.78"/>
<circle cx="333.1" cy="330.2" r="3.1" fill="#fde725" stroke="#fde725" fill-opacity="0.78" stroke-opacity="0.78"/>
<circle cx="342.5" cy="324.4" r="3.1" fill="#fde725" stroke="#fde725" fill-opacity="0.78" stroke-opacity="0.78"/>
<circle cx="217.5" cy="186.9" r="3.1" fill="#440154" stroke="#440154" fill-opacity="0.78" stroke-opacity="0.78"/>
<circle cx="217.5" cy="192.5" r="3.1" fill="#440154" stroke="#440154" fill-opacity="0.78" stroke-opacity="0.78"/>
<circle cx="218.1" cy="181.9" r="3.1" fill="#440154" stroke="#440154" fill-opacity="0.79" stroke-opacity="0.79"/>
<circle cx="218.8" cy="190.6" r="3.1" fill="#440154" stroke="#440154" fill-opacity="0.79" stroke-opacity="0.79"/>
<circle cx="218.8" cy="201.2" r="3.1" fill="#440154" stroke="#440154" fill-opacity="0.79" stroke-opacity="0.79"/>
<circle cx="455.6" cy="189.4" r="3.1" fill="#440154" stroke="#440154" fill-opacity="0.80" stroke-opacity="0.80"/>
<circle cx="219.4" cy="186.2" r="3.1" fill="#440154" stroke="#440154" fill-opacity="0.80" stroke-opacity="0.80"/>
<circle cx="219.4" cy="198.1" r="3.1" fill="#440154" stroke="#440154" fill-opacity="0.80" stroke-opacity="0.80"/>
<circle cx="455.0" cy="191.2" r="3.1" fill="#440154" stroke="#440154" fill-opacity="0.80" stroke-opacity="0.80"/>
<circle cx="455.0" cy="193.1" r="3.1" fill="#440154" stroke="#440154" fill-opacity="0.80" stroke-opacity="0.80"/>
<circle cx="220.0" cy="180.6" r="3.1" fill="#440154" stroke="#440154" fill-opacity="0.80" stroke-opacity="0.80"/>
<circle cx="453.8" cy="195.0" r="3.1" fill="#440154" stroke="#440154" fill-opacity="0.81" stroke-opacity="0.81"/>
<circle cx="221.2" cy="200.6" r="3.1" fill="#440154" stroke="#440154" fill-opacity="0.81" stroke-opacity="0.81"/>
<circle cx="453.1" cy="193.8" r="3.1" fill="#440154" stroke="#440154" fill-opacity="0.81" stroke-opacity="0.81"/>
<circle cx="221.9" cy="204.4" r="3.1" fill="#440154" stroke="#440154" fill-opacity="0.81" stroke-opacity="0.81"/>
<circle cx="451.9" cy="197.5" r="3.1" fill="#440154" stroke="#440154" fill-opacity="0.82" stroke-opacity="0.82"/>
<circle cx="450.6" cy="200.6" r="3.1" fill="#440154" stroke="#440154" fill-opacity="0.83" stroke-opacity="0.83"/>
<circle cx="450.0" cy="198.8" r="3.1" fill="#440154" stroke="#440154" fill-opacity="0.83" stroke-opacity="0.83"/>
<circle cx="225.0" cy="203.1" r="3.1" fill="#440154" stroke="#440154" fill-opacity="0.83" stroke-opacity="0.83"/>
<circle cx="448.1" cy="203.1" r="3.1" fill="#440154" stroke="#440154" fill-opacity="0.84" stroke-opacity="0.84"/>
<circle cx="227.5" cy="205.0" r="3.1" fill="#440154" stroke="#440154" fill-opacity="0.84" stroke-opacity="0.84"/>
<circle cx="446.2" cy="205.6" r="3.1" fill="#440154" stroke="#440154" fill-opacity="0.85" stroke-opacity="0.85"/>
<circle cx="230.0" cy="198.1" r="3.1" fill="#440154" stroke="#440154" fill-opacity="0.85" stroke-opacity="0.85"/>
<circle cx="444.0" cy="191.0" r="3.1" fill="#440154" stroke="#440154" fill-opacity="0.86" stroke-opacity="0.86"/>
<circle cx="443.8" cy="203.8" r="3.1" fill="#440154" stroke="#440154" fill-opacity="0.86" stroke-opacity="0.86"/>
<circle cx="441.2" cy="200.6" r="3.1" fill="#440154" stroke="#440154" fill-opacity="0.87" stroke-opacity="0.87"/>
<circle cx="233.8" cy="216.9" r="3.1" fill="#440154" stroke="#440154" fill-opacity="0.87" stroke-opacity="0.87"/>
<circle cx="234.4" cy="213.1" r="3.1" fill="#440154" stroke="#440154" fill-opacity="0.87" stroke-opacity="0.87"/>
<circle cx="234.4" cy="219.4" r="3.1" fill="#440154" stroke="#440154" fill-opacity="0.87" stroke-opacity="0.87"/>
<circle cx="235.0" cy="206.2" r="3.1" fill="#440154" stroke="#440154" fill-opacity="0.87" stroke-opacity="0.87"/>
<circle cx="236.2" cy="200.6" r="3.1" fill="#440154" stroke="#440154" fill-opacity="0.88" stroke-opacity="0.88"/>
<circle cx="438.1" cy="199.4" r="3.1" fill="#440154" stroke="#440154" fill-opacity="0.88" stroke-opacity="0.88"/>
<circle cx="437.9" cy="191.0" r="3.1" fill="#440154" stroke="#440154" fill-opacity="0.88" stroke-opacity="0.88"/>
<circle cx="437.9" cy="217.1" r="3.1" fill="#440154" stroke="#440154" fill-opacity="0.88" stroke-opacity="0.88"/>
<circle cx="238.8" cy="210.0" r="3.1" fill="#440154" stroke="#440154" fill-opacity="0.88" stroke-opacity="0.88"/>
<circle cx="241.2" cy="206.2" r="3.1" fill="#440154" stroke="#440154" fill-opacity="0.89" stroke-opacity="0.89"/>
<circle cx="433.1" cy="208.5" r="3.1" fill="#440154" stroke="#440154" fill-opacity="0.89" stroke-opacity="0.89"/>
<circle cx="433.1" cy="215.6" r="3.1" fill="#440154" stroke="#440154" fill-opacity="0.89" stroke-opacity="0.89"/>
<circle cx="432.8" cy="196.9" r="3.1" fill="#440154" stroke="#440154" fill-opacity="0.89" stroke-opacity="0.89"/>
<circle cx="242.2" cy="192.5" r="3.1" fill="#440154" stroke="#440154" fill-opacity="0.89" stroke-opacity="0.89"/>
<circle cx="244.4" cy="207.5" r="3.1" fill="#440154" stroke="#440154" fill-opacity="0.90" stroke-opacity="0.90"/>
<circle cx="246.2" cy="210.6" r="3.1" fill="#440154" stroke="#440154" fill-opacity="0.91" stroke-opacity="0.91"/>
<circle cx="428.5" cy="200.0" r="3.1" fill="#440154" stroke="#440154" fill-opacity="0.91" stroke-opacity="0.91"/>
<circle cx="427.5" cy="216.0" r="3.1" fill="#440154" stroke="#440154" fill-opacity="0.91" stroke-opacity="0.91"/>
<circle cx="251.2" cy="203.1" r="3.1" fill="#440154" stroke="#440154" fill-opacity="0.92" stroke-opacity="0.92"/>
<circle cx="423.4" cy="222.5" r="3.1" fill="#440154" stroke="#440154" fill-opacity="0.92" stroke-opacity="0.92"/>
<circle cx="251.6" cy="195.6" r="3.1" fill="#440154" stroke="#440154" fill-opacity="0.92" stroke-opacity="0.92"/>
<circle cx="251.9" cy="211.2" r="3.1" fill="#440154" stroke="#440154" fill-opacity="0.92" stroke-opacity="0.92"/>
<circle cx="422.5" cy="205.0" r="3.1" fill="#440154" stroke="#440154" fill-opacity="0.92" stroke-opacity="0.92"/>
<circle cx="255.0" cy="212.1" r="3.1" fill="#440154" stroke="#440154" fill-opacity="0.93" stroke-opacity="0.93"/>
<circle cx="418.5" cy="216.9" r="3.1" fill="#440154" stroke="#440154" fill-opacity="0.93" stroke-opacity="0.93"/>
<circle cx="256.9" cy="205.0" r="3.1" fill="#440154" stroke="#440154" fill-opacity="0.93" stroke-opacity="0.93"/>
<circle cx="260.4" cy="216.9" r="3.1" fill="#440154" stroke="#440154" fill-opacity="0.94" stroke-opacity="0.94"/>
<circle cx="412.9" cy="202.8" r="3.1" fill="#440154" stroke="#440154" fill-opacity="0.94" stroke-opacity="0.94"/>
<circle cx="412.9" cy="212.8" r="3.1" fill="#440154" stroke="#440154" fill-opacity="0.94" stroke-opacity="0.94"/>
<circle cx="413.1" cy="219.1" r="3.1" fill="#440154" stroke="#440154" fill-opacity="0.94" stroke-opacity="0.94"/>
<circle cx="412.5" cy="228.1" r="3.1" fill="#440154" stroke="#440154" fill-opacity="0.94" stroke-opacity="0.94"/>
<circle cx="262.5" cy="221.2" r="3.1" fill="#440154" stroke="#440154" fill-opacity="0.94" stroke-opacity="0.94"/>
<circle cx="265.9" cy="203.1" r="3.1" fill="#440154" stroke="#440154" fill-opacity="0.95" stroke-opacity="0.95"/>
<circle cx="267.9" cy="206.2" r="3.1" fill="#440154" stroke="#440154" fill-opacity="0.95" stroke-opacity="0.95"/>
<circle cx="405.6" cy="209.6" r="3.1" fill="#440154" stroke="#440154" fill-opacity="0.95" stroke-opacity="0.95"/>
<circle cx="269.6" cy="202.8" r="3.1" fill="#440154" stroke="#440154" fill-opacity="0.95" stroke-opacity="0.95"/>
<circle cx="402.5" cy="193.4" r="3.1" fill="#440154" stroke="#440154" fill-opacity="0.96" stroke-opacity="0.96"/>
<circle cx="401.2" cy="224.4" r="3.1" fill="#440154" stroke="#440154" fill-opacity="0.96" stroke-opacity="0.96"/>
<circle cx="274.0" cy="193.1" r="3.1" fill="#440154" stroke="#440154" fill-opacity="0.96" stroke-opacity="0.96"/>
<circle cx="274.6" cy="226.2" r="3.1" fill="#440154" stroke="#440154" fill-opacity="0.96" stroke-opacity="0.96"/>
<circle cx="275.9" cy="214.6" r="3.1" fill="#440154" stroke="#440154" fill-opacity="0.96" stroke-opacity="0.96"/>
<circle cx="397.1" cy="201.2" r="3.1" fill="#440154" stroke="#440154" fill-opacity="0.96" stroke-opacity="0.96"/>
<circle cx="396.9" cy="224.8" r="3.1" fill="#440154" stroke="#440154" fill-opacity="0.96" stroke-opacity="0.96"/>
<circle cx="396.6" cy="241.2" r="3.1" fill="#440154" stroke="#440154" fill-opacity="0.96" stroke-opacity="0.96"/>
<circle cx="281.9" cy="212.8" r="3.1" fill="#440154" stroke="#440154" fill-opacity="0.97" stroke-opacity="0.97"/>
<circle cx="391.2" cy="227.2" r="3.1" fill="#440154" stroke="#440154" fill-opacity="0.97" stroke-opacity="0.97"/>
<circle cx="286.9" cy="215.6" r="3.1" fill="#440154" stroke="#440154" fill-opacity="0.97" stroke-opacity="0.97"/>
<circle cx="287.5" cy="231.2" r="3.1" fill="#440154" stroke="#440154" fill-opacity="0.97" stroke-opacity="0.97"/>
<circle cx="387.5" cy="201.5" r="3.1" fill="#440154" stroke="#440154" fill-opacity="0.97" stroke-opacity="0.97"/>
<circle cx="387.5" cy="221.9" r="3.1" fill="#440154" stroke="#440154" fill-opacity="0.97" stroke-opacity="0.97"/>
<circle cx="385.0" cy="221.9" r="3.1" fill="#440154" stroke="#440154" fill-opacity="0.98" stroke-opacity="0.98"/>
<circle cx="290.6" cy="216.5" r="3.1" fill="#440154" stroke="#440154" fill-opacity="0.98" stroke-opacity="0.98"/>
<circle cx="290.6" cy="221.9" r="3.1" fill="#440154" stroke="#440154" fill-opacity="0.98" stroke-opacity="0.98"/>
<circle cx="291.9" cy="220.6" r="3.1" fill="#440154" stroke="#440154" fill-opacity="0.98" stroke-opacity="0.98"/>
<circle cx="381.9" cy="220.4" r="3.1" fill="#440154" stroke="#440154" fill-opacity="0.98" stroke-opacity="0.98"/>
<circle cx="379.4" cy="206.5" r="3.1" fill="#440154" stroke="#440154" fill-opacity="0.98" stroke-opacity="0.98"/>
<circle cx="296.6" cy="193.1" r="3.1" fill="#440154" stroke="#440154" fill-opacity="0.98" stroke-opacity="0.98"/>
<circle cx="377.9" cy="216.5" r="3.1" fill="#440154" stroke="#440154" fill-opacity="0.98" stroke-opacity="0.98"/>
<circle cx="375.6" cy="202.1" r="3.1" fill="#440154" stroke="#440154" fill-opacity="0.99" stroke-opacity="0.99"/>
<circle cx="302.2" cy="207.5" r="3.1" fill="#440154" stroke="#440154" fill-opacity="0.99" stroke-opacity="0.99"/>
<circle cx="302.1" cy="230.2" r="3.1" fill="#440154" stroke="#440154" fill-opacity="0.99" stroke-opacity="0.99"/>
<circle cx="369.6" cy="226.5" r="3.1" fill="#440154" stroke="#440154" fill-opacity="0.99" stroke-opacity="0.99"/>
<circle cx="308.4" cy="242.5" r="3.1" fill="#440154" stroke="#440154" fill-opacity="0.99" stroke-opacity="0.99"/>
<circle cx="311.5" cy="236.2" r="3.1" fill="#440154" stroke="#440154" fill-opacity="0.99" stroke-opacity="0.99"/>
<circle cx="364.4" cy="225.4" r="3.1" fill="#440154" stroke="#440154" fill-opacity="0.99" stroke-opacity="0.99"/>
<circle cx="362.8" cy="233.4" r="3.1" fill="#440154" stroke="#440154" fill-opacity="0.99" stroke-opacity="0.99"/>
<circle cx="313.8" cy="227.1" r="3.1" fill="#440154" stroke="#440154" fill-opacity="0.99" stroke-opacity="0.99"/>
<circle cx="359.8" cy="202.5" r="3.1" fill="#440154" stroke="#440154" fill-opacity="0.99" stroke-opacity="0.99"/>
<circle cx="318.5" cy="228.4" r="3.1" fill="#440154" stroke="#440154" fill-opacity="1.00" stroke-opacity="1.00"/>
<circle cx="356.0" cy="209.0" r="3.1" fill="#440154" stroke="#440154" fill-opacity="1.00" stroke-opacity="1.00"/>
<circle cx="354.4" cy="226.5" r="3.1" fill="#440154" stroke="#440154" fill-opacity="1.00" stroke-opacity="1.00"/>
<circle cx="322.5" cy="212.9" r="3.1" fill="#440154" stroke="#440154" fill-opacity="1.00" stroke-opacity="1.00"/>
<circle cx="321.5" cy="224.0" r="3.1" fill="#440154" stroke="#440154" fill-opacity="1.00" stroke-opacity="1.00"/>
<circle cx="324.4" cy="236.2" r="3.1" fill="#440154" stroke="#440154" fill-opacity="1.00" stroke-opacity="1.00"/>
<circle cx="351.5" cy="228.1" r="3.1" fill="#440154" stroke="#440154" fill-opacity="1.00" stroke-opacity="1.00"/>
<circle cx="346.5" cy="197.1" r="3.1" fill="#440154" stroke="#440154" fill-opacity="1.00" stroke-opacity="1.00"/>
<circle cx="344.8" cy="210.9" r="3.1" fill="#440154" stroke="#440154" fill-opacity="1.00" stroke-opacity="1.00"/>
<circle cx="326.2" cy="218.1" r="3.1" fill="#440154" stroke="#440154" fill-opacity="1.00" stroke-opacity="1.00"/>
<circle cx="345.2" cy="231.2" r="3.1" fill="#440154" stroke="#440154" fill-opacity="1.00" stroke-opacity="1.00"/>
<circle cx="333.8" cy="221.2" r="3.1" fill="#440154" stroke="#440154" fill-opacity="1.00" stroke-opacity="1.00"/>
<circle cx="330.6" cy="238.5" r="3.1" fill="#440154" stroke="#440154" fill-opacity="1.00" stroke-opacity="1.00"/>
<circle cx="344.6" cy="235.6" r="3.1" fill="#440154" stroke="#440154" fill-opacity="1.00" stroke-opacity="1.00"/>
</g>
</svg></body></html>
